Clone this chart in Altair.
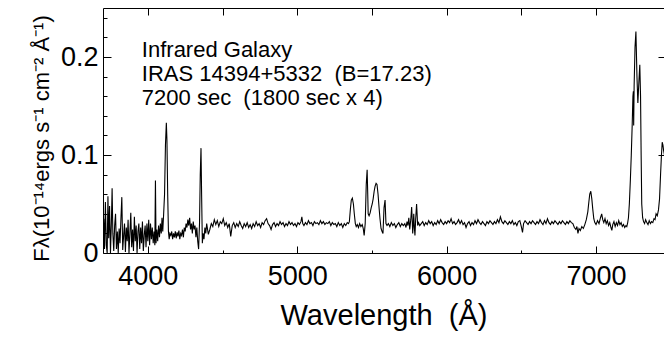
import altair as alt
import pandas as pd

# ---- spectrum (wavelength in Angstrom, flux in 1e-14 erg/s/cm2/A) ----
wave_a = [3700, 3705, 3710, 3716, 3722, 3728, 3733, 3738, 3744, 3750, 3756, 3761, 3766, 3772, 3778,
          3784, 3790, 3796, 3802, 3808, 3814, 3820, 3826, 3832, 3838, 3844, 3850, 3856, 3862, 3868,
          3874, 3880, 3886, 3892, 3898, 3904, 3910, 3916, 3922, 3928, 3934, 3940, 3946, 3952, 3958,
          3964, 3970, 3976, 3982, 3988, 3994, 4000, 4006, 4012, 4018, 4024, 4030, 4036]
flux_a = [0.010, 0.035, 0.004, 0.052, 0.008, 0.000, 0.058, 0.015, 0.048, 0.000, 0.030, 0.066, 0.020, 0.002, 0.028,
          0.040, 0.004, 0.022, 0.000, 0.025, 0.010, 0.035, 0.057, 0.003, 0.018, 0.030, 0.001, 0.026, 0.012, 0.034,
          0.000, 0.020, 0.041, 0.006, 0.024, 0.002, 0.037, 0.012, 0.028, 0.000, 0.022, 0.030, 0.004, 0.026, 0.010,
          0.032, 0.002, 0.018, 0.028, 0.006, 0.030, 0.012, 0.034, 0.008, 0.030, 0.014, 0.026, 0.010]

wave_b = [4042, 4047, 4051, 4055, 4060, 4066, 4072, 4078, 4084, 4090, 4095, 4100, 4106, 4112, 4118,
          4124, 4128, 4133, 4138, 4143, 4148]
flux_b = [0.022, 0.008, 0.074, 0.010, 0.024, 0.012, 0.028, 0.016, 0.030, 0.020, 0.036, 0.022, 0.040, 0.060, 0.110,
          0.133, 0.115, 0.060, 0.022, 0.014, 0.020]

wave_c = [4154, 4160, 4166, 4172, 4178, 4184, 4190, 4196, 4202, 4208, 4214, 4220, 4226, 4232, 4238,
          4244, 4250, 4256, 4262, 4268, 4274, 4280, 4286, 4292, 4298, 4304, 4310, 4316, 4322, 4328,
          4334, 4340, 4346, 4351, 4356, 4360, 4365, 4370, 4376, 4382, 4388, 4394, 4400]
flux_c = [0.018, 0.022, 0.014, 0.020, 0.016, 0.022, 0.015, 0.021, 0.017, 0.023, 0.014, 0.020, 0.018, 0.024, 0.016,
          0.026, 0.022, 0.030, 0.026, 0.034, 0.028, 0.036, 0.024, 0.030, 0.020, 0.032, 0.024, 0.028, 0.016, 0.026,
          0.012, 0.004, 0.030, 0.080, 0.107, 0.060, 0.010, 0.020, 0.014, 0.026, 0.020, 0.030, 0.024]

wave_d = [4405, 4415, 4425, 4435, 4445, 4455, 4465, 4475, 4485, 4495, 4505, 4515, 4525, 4535, 4545,
          4555, 4565, 4575, 4585, 4595, 4605, 4615, 4625, 4635, 4645, 4655, 4665, 4675, 4685, 4695,
          4705, 4715, 4725, 4735, 4745, 4755, 4765, 4775, 4785, 4795, 4805, 4815, 4825, 4835, 4845,
          4855, 4865, 4875, 4885, 4895, 4905, 4915, 4925, 4935, 4945, 4955, 4965, 4975, 4985, 4995,
          5005, 5015, 5025, 5031, 5037, 5045, 5055, 5065, 5075, 5085, 5095, 5105, 5115, 5125, 5135,
          5145, 5155, 5165, 5175, 5185, 5195, 5205, 5215, 5225, 5235, 5245, 5255, 5265, 5275, 5285,
          5295, 5305, 5315, 5325, 5335, 5343]
flux_d = [0.019, 0.024, 0.030, 0.027, 0.034, 0.029, 0.033, 0.027, 0.032, 0.030, 0.035, 0.028, 0.031, 0.026, 0.030,
          0.017, 0.028, 0.031, 0.026, 0.030, 0.027, 0.032, 0.028, 0.025, 0.030, 0.027, 0.031, 0.026, 0.029, 0.025,
          0.030, 0.027, 0.032, 0.028, 0.030, 0.026, 0.031, 0.029, 0.033, 0.035, 0.030, 0.028, 0.024, 0.029, 0.031,
          0.027, 0.030, 0.028, 0.032, 0.029, 0.031, 0.027, 0.030, 0.028, 0.032, 0.029, 0.031, 0.028, 0.030, 0.027,
          0.031, 0.029, 0.032, 0.037, 0.030, 0.028, 0.031, 0.029, 0.033, 0.030, 0.031, 0.028, 0.032, 0.030, 0.031,
          0.029, 0.033, 0.030, 0.032, 0.029, 0.031, 0.030, 0.032, 0.028, 0.031, 0.029, 0.030, 0.027, 0.031, 0.028,
          0.030, 0.026, 0.030, 0.028, 0.031, 0.030]

wave_e = [5349, 5356, 5362, 5369, 5376, 5382, 5389, 5395, 5402, 5410, 5418, 5426, 5435, 5442, 5448,
          5455, 5462, 5468, 5472, 5475, 5481, 5488, 5495, 5502, 5508, 5515, 5521, 5528, 5534, 5541,
          5548, 5554, 5561, 5568, 5574, 5581, 5588, 5594, 5601, 5610, 5620, 5630, 5640, 5650, 5660,
          5670, 5680, 5690, 5700, 5710, 5720, 5728, 5735, 5741, 5747, 5753, 5760, 5766, 5770, 5773,
          5777, 5780, 5784, 5788, 5793, 5799, 5803, 5806, 5812, 5820]
flux_e = [0.032, 0.045, 0.054, 0.056, 0.050, 0.040, 0.030, 0.027, 0.029, 0.026, 0.030, 0.027, 0.029, 0.025, 0.018,
          0.030, 0.070, 0.085, 0.060, 0.040, 0.038, 0.041, 0.046, 0.050, 0.055, 0.063, 0.068, 0.071, 0.070, 0.060,
          0.046, 0.035, 0.025, 0.022, 0.020, 0.046, 0.054, 0.030, 0.028, 0.030, 0.027, 0.031, 0.028, 0.030, 0.026,
          0.029, 0.031, 0.027, 0.030, 0.028, 0.030, 0.026, 0.032, 0.028, 0.036, 0.024, 0.034, 0.047, 0.032, 0.020,
          0.030, 0.040, 0.026, 0.018, 0.035, 0.050, 0.038, 0.028, 0.031, 0.028]

wave_f = [5830, 5840, 5850, 5860, 5870, 5880, 5890, 5900, 5910, 5920, 5930, 5940, 5950, 5960, 5970,
          5980, 5990, 6000, 6010, 6020, 6030, 6040, 6050, 6060, 6070, 6080, 6090, 6100, 6110, 6120,
          6130, 6140, 6150, 6160, 6170, 6180, 6190, 6200, 6210, 6220, 6230, 6240, 6250, 6260, 6270,
          6280, 6290, 6300, 6310, 6320, 6330, 6340, 6350, 6360, 6370, 6380, 6390, 6400, 6410, 6420,
          6430, 6440, 6450, 6460, 6470, 6480, 6490, 6500, 6508, 6515, 6525, 6535, 6545, 6555, 6565,
          6575, 6585, 6595, 6605, 6615, 6625, 6635, 6645, 6655, 6665, 6675, 6685, 6695, 6705, 6715,
          6725, 6735, 6745, 6755, 6765, 6775, 6785, 6795, 6805, 6815, 6825, 6835, 6845, 6855, 6865,
          6872, 6879, 6886, 6895, 6905, 6915, 6925, 6935, 6945, 6952, 6958, 6965, 6972, 6978, 6985,
          6992]
flux_f = [0.030, 0.032, 0.028, 0.031, 0.029, 0.033, 0.030, 0.032, 0.028, 0.031, 0.029, 0.033, 0.030, 0.034, 0.031,
          0.029, 0.032, 0.030, 0.033, 0.031, 0.035, 0.030, 0.032, 0.029, 0.031, 0.034, 0.030, 0.033, 0.029, 0.031,
          0.026, 0.030, 0.032, 0.028, 0.031, 0.029, 0.033, 0.030, 0.034, 0.031, 0.029, 0.032, 0.030, 0.028, 0.032,
          0.030, 0.033, 0.031, 0.029, 0.032, 0.030, 0.034, 0.031, 0.037, 0.032, 0.030, 0.033, 0.031, 0.029, 0.032,
          0.030, 0.033, 0.029, 0.031, 0.028, 0.032, 0.033, 0.027, 0.021, 0.030, 0.033, 0.031, 0.029, 0.032, 0.030,
          0.033, 0.031, 0.029, 0.032, 0.030, 0.034, 0.031, 0.029, 0.033, 0.030, 0.035, 0.031, 0.029, 0.032, 0.030,
          0.033, 0.031, 0.029, 0.032, 0.030, 0.033, 0.031, 0.029, 0.032, 0.030, 0.033, 0.031, 0.030, 0.026, 0.024,
          0.027, 0.020, 0.025, 0.023, 0.027, 0.025, 0.029, 0.034, 0.042, 0.052, 0.060, 0.063, 0.055, 0.045, 0.035,
          0.031]

wave_g = [7000, 7010, 7020, 7030, 7038, 7045, 7052, 7060, 7068, 7076, 7084, 7092, 7100, 7106, 7112,
          7120, 7128, 7136, 7144, 7152, 7160, 7168, 7176, 7184, 7192, 7200, 7206, 7212, 7217, 7223,
          7230, 7236, 7242, 7247, 7250, 7252, 7255, 7261, 7267, 7274, 7280, 7287, 7293, 7298, 7302,
          7306, 7312, 7318, 7325, 7332, 7340, 7348, 7356, 7364, 7372, 7380, 7388, 7395, 7402, 7410,
          7418, 7425, 7432, 7438, 7443, 7448, 7452, 7458, 7465, 7472, 7480, 7490]
flux_g = [0.029, 0.033, 0.030, 0.036, 0.040, 0.034, 0.031, 0.035, 0.030, 0.033, 0.028, 0.031, 0.026, 0.023, 0.029,
          0.032, 0.027, 0.031, 0.028, 0.033, 0.029, 0.031, 0.027, 0.029, 0.026, 0.028, 0.027, 0.031, 0.036, 0.050,
          0.075, 0.100, 0.130, 0.160, 0.165, 0.130, 0.170, 0.210, 0.226, 0.180, 0.153, 0.175, 0.192, 0.160, 0.100,
          0.050, 0.036, 0.032, 0.030, 0.034, 0.031, 0.029, 0.033, 0.030, 0.032, 0.031, 0.035, 0.034, 0.040, 0.038,
          0.044, 0.055, 0.080, 0.100, 0.113, 0.110, 0.105, 0.100, 0.092, 0.090, 0.085, 0.080]

# ---- axis ticks / labels ----
x_major = [4000, 5000, 6000, 7000]
x_minor = [4000, 4500, 5000, 5500, 6000, 6500, 7000]
y_major = [0, 0.1, 0.2]
y_minor = [0.02, 0.04, 0.06, 0.08, 0.12, 0.14, 0.16, 0.18, 0.22, 0.24]
x_domain = [3700, 7455]
y_domain = [0, 0.25]

# ---- annotation ----
NB2 = "\u00a0\u00a0"
note_lines = ["Infrared Galaxy", "IRAS 14394+5332" + NB2 + "(B=17.23)", "7200 sec" + NB2 + "(1800 sec x 4)"]
note_x = [3960, 3960, 3960]
note_y = [0.200, 0.1755, 0.151]

waves = wave_a + wave_b + wave_c + wave_d + wave_e + wave_f + wave_g
fluxes = flux_a + flux_b + flux_c + flux_d + flux_e + flux_f + flux_g
df = pd.DataFrame({"w": waves, "f": fluxes})
notes = pd.DataFrame({"x": note_x, "y": note_y, "t": note_lines})

FONT = "Liberation Sans"
xs = alt.Scale(domain=x_domain, nice=False, zero=False)
ys = alt.Scale(domain=y_domain, nice=False, zero=False)

ytitle = "F\u03bb(10\u207b\u00b9\u2074ergs s\u207b\u00b9 cm\u207b\u00b2 \u00c5\u207b\u00b9)"

main = alt.Chart(df).mark_line(color="black", strokeWidth=1.1, clip=True).encode(
    x=alt.X("w:Q", scale=xs, axis=alt.Axis(
        orient="bottom", values=x_major, format="d", domain=True, domainColor="black", domainWidth=1,
        ticks=False, tickSize=0,
        labelFontSize=27, labelFont=FONT, labelColor="black", labelPadding=10,
        title="Wavelength" + NB2 + "(\u00c5)", titleFontSize=29, titleFont=FONT, titleFontWeight="normal",
        titleColor="black", titlePadding=12)),
    y=alt.Y("f:Q", scale=ys, axis=alt.Axis(
        orient="left", values=y_major, domain=True, domainColor="black", domainWidth=1,
        ticks=False, tickSize=0,
        labelFontSize=27, labelFont=FONT, labelColor="black", labelPadding=5,
        labelExpr="datum.value == 0 ? '0' : format(datum.value, '.1f')",
        title=ytitle, titleFontSize=22, titleFont=FONT, titleFontWeight="normal", titleColor="black",
        titleAngle=270, titleX=-55, titleY=130, titleAlign="center", titleBaseline="alphabetic")),
)


def tick_layer(xvals, xorient, xlen, yvals, yorient, ylen):
    return alt.Chart(df).mark_line(opacity=0).encode(
        x=alt.X("w:Q", scale=xs, axis=alt.Axis(
            orient=xorient, values=xvals, domain=False, labels=False, title=None,
            ticks=True, tickSize=xlen, offset=-xlen, tickColor="black", tickWidth=1)),
        y=alt.Y("f:Q", scale=ys, axis=alt.Axis(
            orient=yorient, values=yvals, domain=False, labels=False, title=None,
            ticks=True, tickSize=ylen, offset=-ylen, tickColor="black", tickWidth=1)),
    )


t1 = tick_layer(x_major, "bottom", 7, y_major, "left", 8)
t2 = tick_layer(x_minor, "bottom", 3, y_minor, "left", 4)
t3 = tick_layer(x_minor, "top", 7, y_major, "right", 6)

# top frame line (top axis domain only)
t4 = alt.Chart(df).mark_line(opacity=0).encode(
    x=alt.X("w:Q", scale=xs, axis=alt.Axis(
        orient="top", domain=True, domainColor="black", domainWidth=1, ticks=False,
        labels=False, title=None, values=x_major)),
    y=alt.Y("f:Q", scale=ys, axis=None),
)

text = alt.Chart(notes).mark_text(align="left", baseline="alphabetic", fontSize=22, font=FONT,
                                  color="black").encode(
    x=alt.X("x:Q", scale=xs, axis=None),
    y=alt.Y("y:Q", scale=ys, axis=None),
    text="t:N",
)

chart = alt.layer(main, t1, t2, t3, t4, text).resolve_axis(x="independent", y="independent").properties(
    width=561, height=245,
    autosize=alt.AutoSizeParams(type="none"),
    padding={"left": 95, "top": 0, "right": 0, "bottom": 79},
).configure_view(stroke=None).configure_axis(grid=False)

chart.save("out.html", embed_options={"renderer": "svg", "actions": False})
